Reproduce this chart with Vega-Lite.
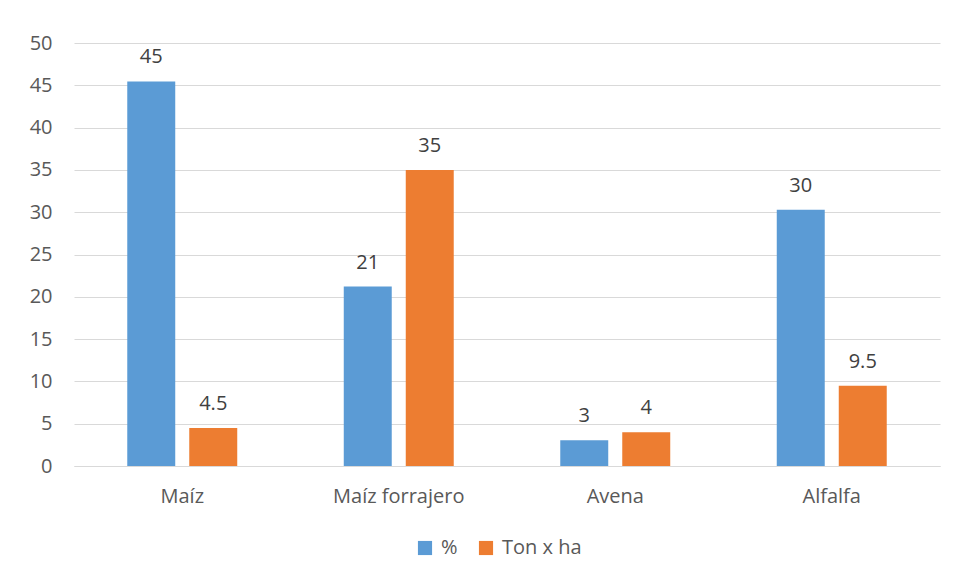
{
  "$schema": "https://vega.github.io/schema/vega-lite/v6.json",
  "width": 866,
  "height": 423,
  "autosize": "none",
  "padding": {"left": 74, "top": 43, "right": 17, "bottom": 114},
  "background": "white",
  "config": {
    "view": {"stroke": null},
    "font": "Open Sans",
    "text": {"font": "Open Sans"}
  },
  "data": {
    "values": [
      {"cultivo": "Maíz", "serie": "%", "valor": 45.45, "etiqueta": "45"},
      {"cultivo": "Maíz", "serie": "Ton x ha", "valor": 4.5, "etiqueta": "4.5"},
      {"cultivo": "Maíz forrajero", "serie": "%", "valor": 21.21, "etiqueta": "21"},
      {"cultivo": "Maíz forrajero", "serie": "Ton x ha", "valor": 35, "etiqueta": "35"},
      {"cultivo": "Avena", "serie": "%", "valor": 3.03, "etiqueta": "3"},
      {"cultivo": "Avena", "serie": "Ton x ha", "valor": 4, "etiqueta": "4"},
      {"cultivo": "Alfalfa", "serie": "%", "valor": 30.3, "etiqueta": "30"},
      {"cultivo": "Alfalfa", "serie": "Ton x ha", "valor": 9.5, "etiqueta": "9.5"}
    ]
  },
  "encoding": {
    "x": {
      "field": "cultivo", "type": "nominal",
      "sort": ["Maíz", "Maíz forrajero", "Avena", "Alfalfa"],
      "scale": {"paddingInner": 0.492, "paddingOuter": 0.246},
      "axis": {
        "title": null, "labelAngle": 0, "ticks": false,
        "domainColor": "#d9d9d9", "domainWidth": 1,
        "labelFontSize": 20, "labelColor": "#595959", "labelPadding": 20,
        "labelFont": "Open Sans"
      }
    },
    "xOffset": {
      "field": "serie", "type": "nominal",
      "scale": {"paddingInner": 0.226, "paddingOuter": 0}
    },
    "y": {
      "field": "valor", "type": "quantitative",
      "scale": {"domain": [0, 50], "nice": false},
      "axis": {
        "title": null, "values": [0, 5, 10, 15, 20, 25, 30, 35, 40, 45, 50],
        "ticks": false, "domain": false,
        "gridColor": "#d9d9d9", "gridWidth": 1,
        "labelFontSize": 20, "labelColor": "#595959", "labelPadding": 22,
        "labelFont": "Open Sans"
      }
    }
  },
  "layer": [
    {
      "mark": {"type": "bar"},
      "encoding": {
        "color": {
          "field": "serie", "type": "nominal",
          "scale": {"domain": ["%", "Ton x ha"], "range": ["#5B9BD5", "#ED7D31"]},
          "legend": {
            "title": null, "orient": "none", "direction": "horizontal",
            "legendX": 341, "legendY": 495,
            "symbolType": "square", "symbolSize": 200, "symbolStrokeWidth": 0,
            "labelFontSize": 20, "labelColor": "#595959", "labelFont": "Open Sans",
            "columnPadding": 18, "labelOffset": 6
          }
        }
      }
    },
    {
      "mark": {"type": "text", "baseline": "alphabetic", "dy": -18, "fontSize": 20, "color": "#404040"},
      "encoding": {
        "text": {"field": "etiqueta", "type": "nominal"}
      }
    }
  ]
}
